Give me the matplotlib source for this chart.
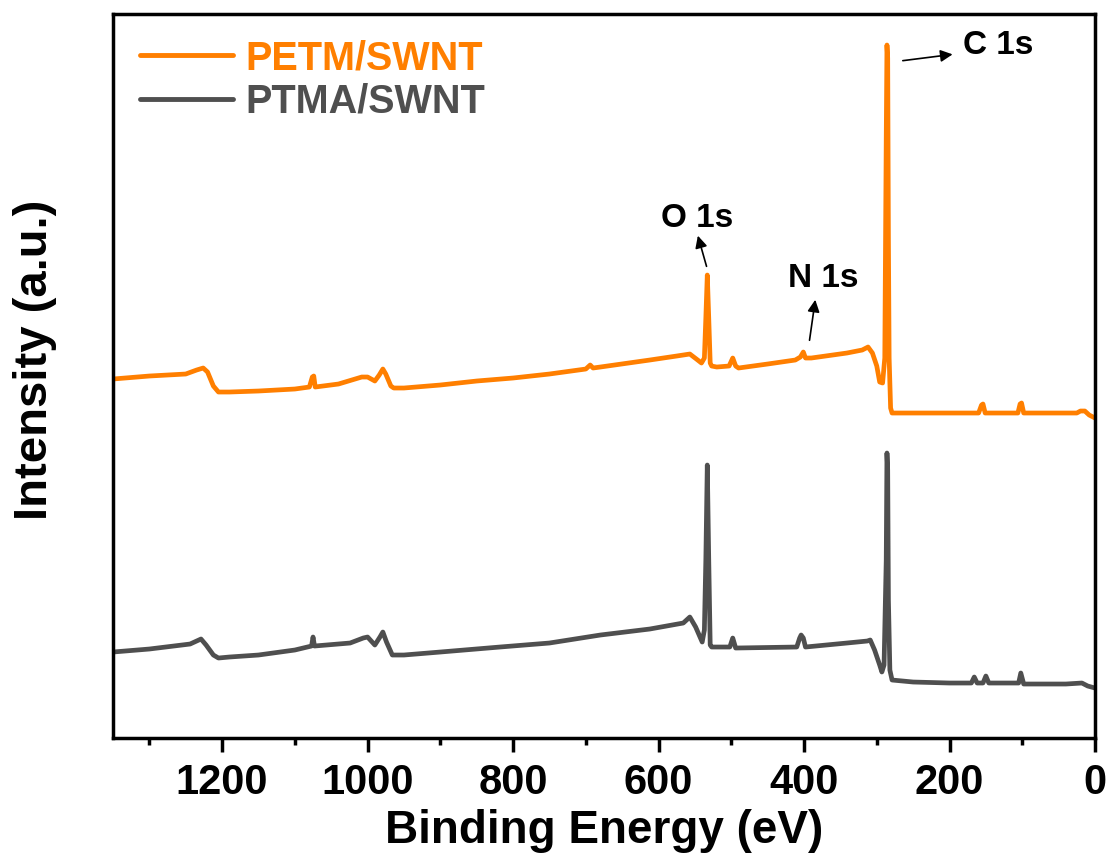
import matplotlib
matplotlib.use("Agg")
import matplotlib.pyplot as plt

plt.rcParams['font.family'] = ['Liberation Sans', 'DejaVu Sans']
plt.rcParams['font.weight'] = 'bold'

# survey spectra, binding energy (eV) vs intensity (a.u., offset stacked)
petm_energy = [1350, 1300, 1250, 1235, 1226, 1220, 1212, 1205, 1190, 1150, 1100,
               1080, 1076, 1074, 1072, 1040, 1008, 1000, 990, 984, 979, 975, 968,
               964, 950, 900, 850, 800, 750, 700, 694, 690, 680, 612, 575, 557,
               548, 541, 537, 535, 533, 531, 529, 527, 520, 503, 498, 494, 490,
               450, 412, 405, 401, 398, 390, 341, 320, 312, 306, 300, 296, 292,
               289, 287, 286, 285, 284, 283, 281, 279, 260, 200, 160, 156, 154,
               151, 106, 103, 101, 98, 60, 25, 20, 14, 8, 0]
petm_intensity = [359, 362, 364, 368, 370, 366, 352, 346, 346, 347, 349,
                  351, 361, 362, 351, 354, 361, 361, 357, 363, 369, 364, 352,
                  350, 350, 353, 357, 360, 364, 369, 373, 370, 371, 378, 382, 384,
                  379, 375, 380, 420, 463, 420, 375, 372, 371, 372, 380, 372, 370,
                  374, 378, 381, 386, 380, 380, 385, 388, 391, 385, 372, 356, 355,
                  380, 600, 693, 680, 500, 380, 330, 325, 325, 325, 325, 333, 334,
                  325, 325, 334, 335, 325, 325, 325, 327, 327, 323, 320]

ptma_energy = [1350, 1300, 1244, 1235, 1229, 1222, 1212, 1205, 1190, 1150, 1100,
               1077, 1075, 1073, 1024, 1006, 1000, 990, 983, 979, 974, 966, 950,
               900, 818, 750, 680, 612, 566, 557, 549, 540, 537, 535, 533, 531,
               529, 527, 502, 498, 494, 410, 406, 404, 401, 398, 341, 313, 309,
               303, 296, 293, 290, 287, 286, 285, 284, 282, 279, 250, 200, 170,
               166, 162, 154, 150, 146, 105, 102, 98, 40, 18, 10, 0]
ptma_intensity = [86, 89, 94, 97, 99, 93, 83, 80, 81, 83, 88,
                  92, 101, 92, 95, 100, 101, 93, 101, 106, 96, 83, 83,
                  86, 91, 95, 103, 109, 115, 121, 111, 96, 108, 178, 273, 178,
                  93, 91, 91, 100, 90, 91, 100, 103, 100, 91, 95, 97, 98,
                  88, 73, 66, 73, 178, 285, 268, 138, 68, 58, 56, 55, 55,
                  61, 55, 55, 62, 55, 55, 65, 54, 54, 55, 52, 50]

series_labels = ['PETM/SWNT', 'PTMA/SWNT']
series_colors = ['#FF7F00', '#4F4F4F']

fig = plt.figure(figsize=(11.11, 8.65), dpi=100)
ax = fig.add_axes([0.1017, 0.1468, 0.8839, 0.837])

ax.plot(petm_energy, petm_intensity, color=series_colors[0], lw=3.4,
        label=series_labels[0], solid_joinstyle='round')
ax.plot(ptma_energy, ptma_intensity, color=series_colors[1], lw=3.4,
        label=series_labels[1], solid_joinstyle='round')

ax.set_xlim(1350, 0)
ax.set_ylim(0, 724)
ax.set_xticks(range(0, 1201, 200))
ax.set_xticks(range(100, 1301, 200), minor=True)
ax.set_yticks([])

for sp in ax.spines.values():
    sp.set_linewidth(2.5)
ax.tick_params(axis='x', which='major', direction='out', length=10, width=2.5,
               labelsize=30, pad=8)
ax.tick_params(axis='x', which='minor', direction='out', length=5, width=2.5)
for lbl in ax.get_xticklabels():
    lbl.set_fontweight('bold')

ax.set_xlabel('Binding Energy (eV)', fontsize=33, fontweight='bold', labelpad=4)
ax.set_ylabel('Intensity (a.u.)', fontsize=34, fontweight='bold')
ax.yaxis.set_label_coords(-0.057, 0.522)

# peak labels
arrow = dict(arrowstyle='-|>', color='black', lw=1.2, mutation_scale=18)
ax.annotate('', xy=(192, 684), xytext=(268, 677), arrowprops=arrow)
ax.text(181, 693, 'C 1s', fontsize=24, fontweight='bold', va='center', ha='left')
ax.annotate('', xy=(547, 505), xytext=(533, 469), arrowprops=arrow)
ax.text(547, 520, 'O 1s', fontsize=24, fontweight='bold', va='center', ha='center')
ax.annotate('', xy=(384, 441), xytext=(393, 395), arrowprops=arrow)
ax.text(373, 460, 'N 1s', fontsize=24, fontweight='bold', va='center', ha='center')

leg = ax.legend(loc='upper left', bbox_to_anchor=(27 / 982, 1 - 25 / 724),
                frameon=False, fontsize=28.5, handlelength=2.35,
                handletextpad=0.3, labelspacing=0.15, borderpad=0,
                borderaxespad=0, labelcolor='linecolor')
for t in leg.get_texts():
    t.set_fontweight('bold')
for h in leg.get_lines():
    h.set_linewidth(3.5)
    h.set_solid_capstyle('round')

fig.savefig('out.png', dpi=100)
